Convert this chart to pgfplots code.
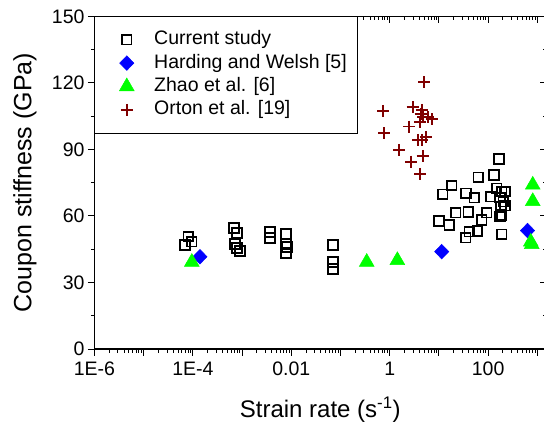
\documentclass[border=0pt]{standalone}
\usepackage{pgfplots}
\pgfplotsset{compat=1.18}
\usepackage{fontspec}
\setmainfont{Liberation Sans}
\definecolor{zgreen}{RGB}{0,255,0}
\definecolor{hblue}{RGB}{0,0,255}
\definecolor{odred}{RGB}{128,0,0}
\newcommand{\tickfont}{\fontsize{19.5bp}{23bp}\selectfont}
\newcommand{\labfont}{\fontsize{24bp}{29bp}\selectfont}
\newcommand{\ylabfont}{\fontsize{25bp}{30bp}\selectfont}
\pgfplotsset{
  myframe/.style={
    width=451.5bp, height=332.7bp, scale only axis,
    xmin=1e-6, xmax=1500, ymin=0, ymax=150,
    xtick={1e-6,1e-5,1e-4,1e-3,1e-2,1e-1,1,10,100,1000},
    ytick={0,30,60,90,120,150},
    minor ytick={15,45,75,105,135},
    minor xtick={2e-6,3e-6,4e-6,5e-6,6e-6,7e-6,8e-6,9e-6,
      2e-5,3e-5,4e-5,5e-5,6e-5,7e-5,8e-5,9e-5,
      2e-4,3e-4,4e-4,5e-4,6e-4,7e-4,8e-4,9e-4,
      2e-3,3e-3,4e-3,5e-3,6e-3,7e-3,8e-3,9e-3,
      0.02,0.03,0.04,0.05,0.06,0.07,0.08,0.09,
      0.2,0.3,0.4,0.5,0.6,0.7,0.8,0.9,
      2,3,4,5,6,7,8,9,
      20,30,40,50,60,70,80,90,
      200,300,400,500,600,700,800,900},
    major tick length=6.5bp, minor tick length=3.5bp,
    axis line style={line width=1.1bp},
    every tick/.append style={black, line width=1bp},
  }
}
\begin{document}
\begin{tikzpicture}
\path[use as bounding box] (-94.5bp,-83bp) rectangle (449.5bp,349bp);
% top/right inward ticks
\begin{semilogxaxis}[myframe, tick pos=right, tick align=inside,
  xticklabels={}, yticklabels={}]
\addplot[draw=none, forget plot] coordinates {(1,1)};
\end{semilogxaxis}
\begin{semilogxaxis}[myframe, tick pos=left, tick align=outside,
  xticklabels={1E-6,,1E-4,,0.01,,1,,100,},
  ticklabel style={font=\tickfont},
  xticklabel style={yshift=-3bp},
  /pgf/number format/assume math mode=true,
  xlabel={Strain rate (s\textsuperscript{-1})},
  ylabel={Coupon stiffness (GPa)},
  xlabel style={font=\labfont, at={(axis description cs:0.5,-0.205)}, anchor=base},
  ylabel style={font=\ylabfont, at={(axis description cs:-0.154,0.5)}, anchor=center},
  legend cell align=left,
  legend image code/.code={\path (-12bp,0bp) (17bp,0bp); \draw[#1] plot coordinates {(8.5bp,0bp)};},
  legend style={at={(0,1)}, anchor=north west, draw=black, line width=0.8bp,
    fill=white, font=\tickfont, inner xsep=11bp, inner ysep=13bp, row sep=3.4bp,
    nodes={inner sep=0pt, text height=15bp, text depth=5bp},
    /tikz/every odd column/.append style={column sep=18.5bp}},
]
\addplot[only marks, mark=square, mark size=4.8bp, mark options={draw=black, line width=1.7bp}]
coordinates {
(6.9e-5,46.9) (8.1e-5,50.7) (9.5e-5,48.4)
(6.8e-4,54.6) (7.9e-4,52.3) (7.2e-4,47.4) (7.9e-4,45.6) (9.1e-4,44.2)
(3.7e-3,52.8) (3.7e-3,50.1) (7.8e-3,51.9) (7.8e-3,47.4) (8.2e-3,46.0) (7.8e-3,43.3)
(0.0705,46.9) (0.0705,39.2) (0.0705,36.1)
(11.9,69.8) (18.2,73.7) (35.6,70.2) (52.5,68.2) (63.2,77.4) (132,78.5) (167,85.6)
(150,72.5) (189,71.0) (221,71.0) (113,68.7) (175,68.2) (204,66.4) (221,64.6)
(183,64.2) (189,60.4) (175,59.7) (93.8,61.5) (74.1,58.2) (39.6,61.7) (21.9,61.5)
(10.0,57.7) (16.3,55.9) (41.5,52.9) (60.3,53.2) (35.1,50.2) (189,51.7)
};
\addlegendentry{Current study}
\addplot[only marks, mark=diamond*, mark size=7.3bp, mark options={draw=hblue, fill=hblue, xscale=1.3, line width=0.5bp}]
coordinates {(1.39e-4,41.6) (11.4,43.9) (632,53.4)};
\addlegendentry{Harding and Welsh [5]}
\addplot[only marks, mark=triangle*, mark size=8.5bp, mark options={draw=zgreen, fill=zgreen, line width=0.5bp}]
coordinates {(9.5e-5,39.2) (0.341,39.2) (1.43,40.0) (807,74.0) (807,66.6) (735,48.3) (770,47.2)};
\addlegendentry{Zhao et al. [6]}
\addplot[only marks, mark=+, mark size=6bp, mark options={draw=odred, line width=1.9bp}]
coordinates {
(4.98,120.3) (0.74,107.4) (2.93,109.0) (4.47,107.8) (4.27,106.0) (4.82,104.5)
(6.10,104.5) (7.14,103.6) (4.13,102.5) (2.50,100.3) (0.766,97.3) (5.47,95.4)
(3.81,94.3) (4.47,94.3) (1.57,89.8) (4.69,87.1) (2.71,84.5) (4.13,78.9)
};
\addlegendentry{Orton et al. [19]}
\end{semilogxaxis}
\end{tikzpicture}
\end{document}
